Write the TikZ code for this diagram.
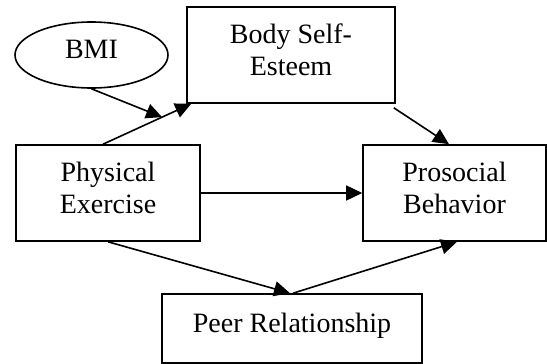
\documentclass[tikz,border=0pt]{standalone}
\usepackage{fontspec}
\setmainfont{Liberation Serif}
\usetikzlibrary{shapes.geometric,arrows.meta,calc}
\begin{document}
\begin{tikzpicture}[x=1pt,y=-1pt,
  every node/.style={font=\fontsize{28}{32}\selectfont, inner sep=0pt},
  box/.style={draw, line width=1.6pt, rectangle, align=center, text depth=11pt},
  oval/.style={draw, line width=1.6pt, ellipse, text depth=11pt},
  arr/.style={line width=1.6pt, -{Triangle[length=16pt,width=15pt]}}]
\useasboundingbox (0,0) rectangle (547,364);
\node[oval, minimum width=153pt, minimum height=66pt] (bmi) at (91.5,55) {BMI};
\node[box, minimum width=208pt, minimum height=96pt] (body) at (291,55) {Body Self-\\Esteem};
\node[box, minimum width=184pt, minimum height=96pt] (phys) at (108,193) {Physical\\Exercise};
\node[box, minimum width=183pt, minimum height=96pt] (pro) at (454.5,193) {Prosocial\\Behavior};
\node[box, minimum width=260pt, minimum height=69pt, text depth=12pt] (peer) at (292,328.5) {Peer Relationship};
\coordinate (a) at ($(phys.north)+(-5,0)$);
\coordinate (b) at ($(body.south west)+(5,0)$);
\coordinate (m) at ($(a)!0.67!(b)$);
\draw[arr] (a) -- (b);
\draw[arr] (bmi.south) -- (m);
\draw[arr] ($(body.south east)+(-2,4)$) -- ($(pro.north)+(-5.5,0)$);
\draw[arr] (phys.east) -- (pro.west);
\draw[arr] (phys.south) -- ($(peer.north)+(-2,0)$);
\draw[arr] ($(peer.north)+(1,0)$) -- ($(pro.south)+(2.5,0)$);
\end{tikzpicture}
\end{document}
